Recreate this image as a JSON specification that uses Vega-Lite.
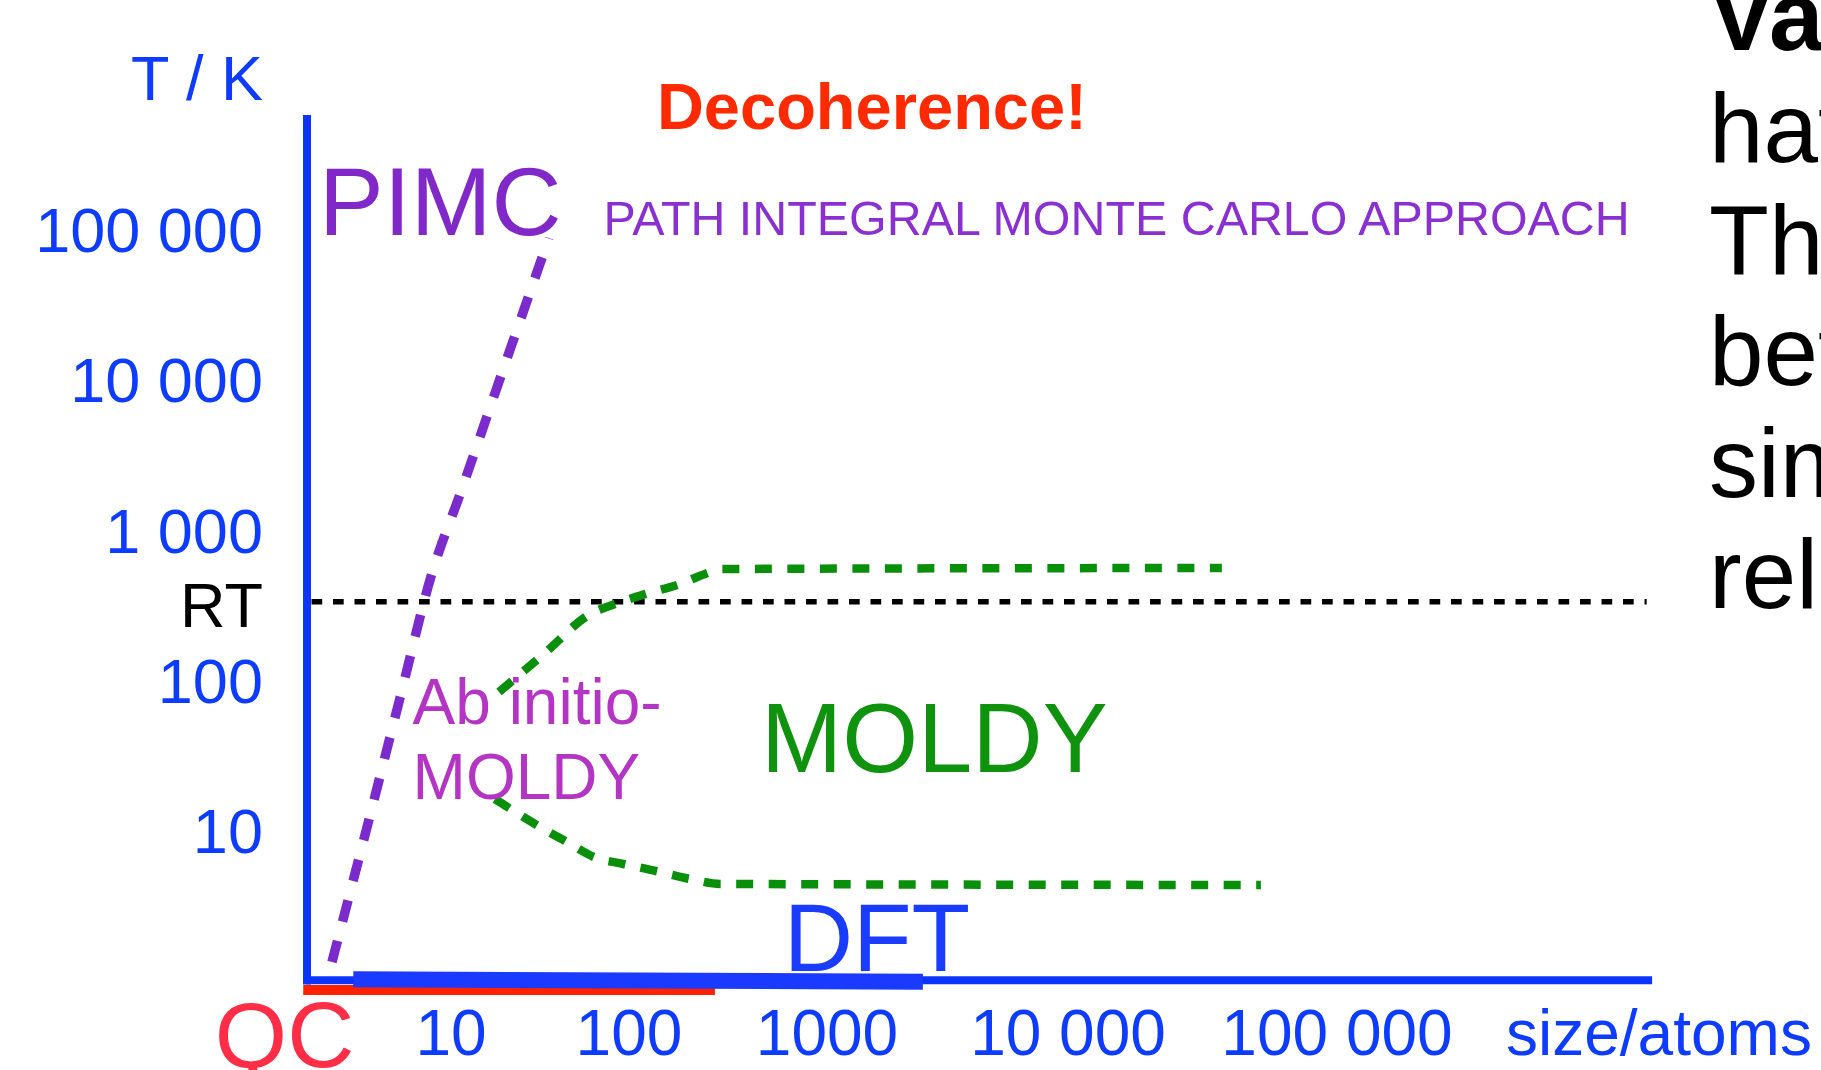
{
  "$schema": "https://vega.github.io/schema/vega-lite/v6.json",
  "width": 1821,
  "height": 1070,
  "autosize": {"type": "fit", "contains": "padding"},
  "padding": 0,
  "background": "white",
  "config": {"view": {"stroke": null}, "text": {"font": "Liberation Sans"}},
  "datasets": {
    "qc_range": [{"method": "QC", "log_size": -0.019, "log_size_end": 2.434, "log_T": -0.065, "log_T_end": -0.065}],
    "axes": [
      {"axis": "T", "log_size": 0.007, "log_size_end": 0.007, "log_T": -0.028, "log_T_end": 5.759},
      {"axis": "size", "log_size": 0, "log_size_end": 6.167, "log_T": 0, "log_T_end": 0}
    ],
    "dft_range": [{"method": "DFT", "log_size": 0.326, "log_size_end": 3.398, "log_T": 0.007, "log_T_end": -0.0096}],
    "room_temperature": [{"label": "RT", "log_size": 0.038, "log_size_end": 6.147, "log_T": 2.519, "log_T_end": 2.519}],
    "curves": [
      {"curve": "PIMC", "log_size": 0.179, "log_T": 0.121},
      {"curve": "PIMC", "log_size": 0.428, "log_T": 1.046},
      {"curve": "PIMC", "log_size": 0.648, "log_T": 1.878},
      {"curve": "PIMC", "log_size": 0.869, "log_T": 2.710},
      {"curve": "PIMC", "log_size": 1.051, "log_T": 3.236},
      {"curve": "PIMC", "log_size": 1.292, "log_T": 4.061},
      {"curve": "PIMC", "log_size": 1.550, "log_T": 4.940},
      {"curve": "MOLDY upper", "log_size": 1.270, "log_T": 1.918},
      {"curve": "MOLDY upper", "log_size": 1.528, "log_T": 2.178},
      {"curve": "MOLDY upper", "log_size": 1.781, "log_T": 2.437},
      {"curve": "MOLDY upper", "log_size": 1.921, "log_T": 2.504},
      {"curve": "MOLDY upper", "log_size": 2.081, "log_T": 2.570},
      {"curve": "MOLDY upper", "log_size": 2.258, "log_T": 2.637},
      {"curve": "MOLDY upper", "log_size": 2.384, "log_T": 2.704},
      {"curve": "MOLDY upper", "log_size": 2.470, "log_T": 2.737},
      {"curve": "MOLDY upper", "log_size": 4.572, "log_T": 2.744},
      {"curve": "MOLDY lower", "log_size": 1.247, "log_T": 1.206},
      {"curve": "MOLDY lower", "log_size": 1.500, "log_T": 1.020},
      {"curve": "MOLDY lower", "log_size": 1.652, "log_T": 0.920},
      {"curve": "MOLDY lower", "log_size": 1.803, "log_T": 0.820},
      {"curve": "MOLDY lower", "log_size": 1.966, "log_T": 0.774},
      {"curve": "MOLDY lower", "log_size": 2.136, "log_T": 0.727},
      {"curve": "MOLDY lower", "log_size": 2.308, "log_T": 0.674},
      {"curve": "MOLDY lower", "log_size": 2.460, "log_T": 0.641},
      {"curve": "MOLDY lower", "log_size": 4.717, "log_T": 0.634}
    ],
    "yticks": [
      {"label": "100 000", "log_T": 5},
      {"label": "10 000", "log_T": 4},
      {"label": "1 000", "log_T": 3},
      {"label": "100", "log_T": 2},
      {"label": "10", "log_T": 1}
    ],
    "xticks": [
      {"label": "10", "log_size": 1},
      {"label": "100", "log_size": 2},
      {"label": "1000", "log_size": 3},
      {"label": "10 000", "log_size": 4},
      {"label": "100 000", "log_size": 5}
    ],
    "side_text": [
      {"label": "hat", "log_T": 5.446},
      {"label": "Th", "log_T": 4.703},
      {"label": "bet", "log_T": 3.962},
      {"label": "sim", "log_T": 3.219},
      {"label": "rel", "log_T": 2.478}
    ]
  },
  "layer": [
    {
      "data": {"name": "qc_range"},
      "mark": {"type": "rule", "color": "#ff2200", "strokeWidth": 10, "strokeCap": "butt"},
      "encoding": {
        "x": {"field": "log_size", "type": "quantitative", "scale": {"domain": [0, 1, 2, 3, 4, 5, 6], "range": [306, 451, 629, 827, 1068, 1337, 1607], "nice": false, "zero": false}, "axis": null},
        "x2": {"field": "log_size_end"},
        "y": {"field": "log_T", "type": "quantitative", "scale": {"domain": [-0.5973, 6.5241], "nice": false, "zero": false}, "axis": null},
        "y2": {"field": "log_T_end"}
      }
    },
    {
      "data": {"name": "axes"},
      "mark": {"type": "rule", "color": "#0b35ff", "strokeWidth": 8, "strokeCap": "butt"},
      "encoding": {
        "x": {"field": "log_size", "type": "quantitative"},
        "x2": {"field": "log_size_end"},
        "y": {"field": "log_T", "type": "quantitative"},
        "y2": {"field": "log_T_end"}
      }
    },
    {
      "data": {"name": "dft_range"},
      "mark": {"type": "rule", "color": "#1a3aff", "strokeWidth": 16, "strokeCap": "butt"},
      "encoding": {
        "x": {"field": "log_size", "type": "quantitative"},
        "x2": {"field": "log_size_end"},
        "y": {"field": "log_T", "type": "quantitative"},
        "y2": {"field": "log_T_end"}
      }
    },
    {
      "data": {"name": "room_temperature"},
      "mark": {"type": "rule", "color": "#000000", "strokeWidth": 5.3, "strokeDash": [10.7, 10.8], "strokeCap": "butt"},
      "encoding": {
        "x": {"field": "log_size", "type": "quantitative"},
        "x2": {"field": "log_size_end"},
        "y": {"field": "log_T", "type": "quantitative"},
        "y2": {"field": "log_T_end"}
      }
    },
    {
      "data": {"name": "curves"},
      "transform": [{"filter": "datum.curve !== 'PIMC'"}],
      "mark": {"type": "line", "color": "#0a8f0a", "strokeWidth": 8.5, "strokeDash": [17, 15.5], "strokeCap": "butt", "interpolate": "monotone"},
      "encoding": {
        "x": {"field": "log_size", "type": "quantitative"},
        "y": {"field": "log_T", "type": "quantitative"},
        "detail": {"field": "curve"}
      }
    },
    {
      "data": {"name": "curves"},
      "transform": [{"filter": "datum.curve === 'PIMC'"}],
      "mark": {"type": "line", "color": "#7b2bcb", "strokeWidth": 9.5, "strokeDash": [22, 20], "strokeCap": "butt", "interpolate": "monotone"},
      "encoding": {
        "x": {"field": "log_size", "type": "quantitative"},
        "y": {"field": "log_T", "type": "quantitative"}
      }
    },
    {
      "data": {"name": "yticks"},
      "mark": {"type": "text", "align": "right", "baseline": "alphabetic", "dy": 23, "fontSize": 63, "color": "#0d3cff", "clip": true},
      "encoding": {
        "x": {"datum": -0.297},
        "y": {"field": "log_T", "type": "quantitative"},
        "text": {"field": "label"}
      }
    },
    {
      "data": {"values": [{"label": "RT", "log_T": 2.519}]},
      "mark": {"type": "text", "align": "right", "baseline": "alphabetic", "dy": 25, "fontSize": 63, "color": "#000000", "clip": true},
      "encoding": {
        "x": {"datum": -0.297},
        "y": {"field": "log_T", "type": "quantitative"},
        "text": {"field": "label"}
      }
    },
    {
      "data": {"values": [{"label": "T / K", "log_size": -0.297, "log_T": 5.859}]},
      "mark": {"type": "text", "align": "right", "baseline": "alphabetic", "fontSize": 63, "color": "#0d3cff", "clip": true},
      "encoding": {
        "x": {"field": "log_size", "type": "quantitative"},
        "y": {"field": "log_T", "type": "quantitative"},
        "text": {"field": "label"}
      }
    },
    {
      "data": {"name": "xticks"},
      "mark": {"type": "text", "align": "center", "baseline": "alphabetic", "fontSize": 64, "color": "#0d3cff", "clip": true},
      "encoding": {
        "x": {"field": "log_size", "type": "quantitative"},
        "y": {"datum": -0.5},
        "text": {"field": "label"}
      }
    },
    {
      "data": {"values": [{"label": "size/atoms", "log_size": 5.626}]},
      "mark": {"type": "text", "align": "left", "baseline": "alphabetic", "fontSize": 64, "color": "#0d3cff", "clip": true},
      "encoding": {
        "x": {"field": "log_size", "type": "quantitative"},
        "y": {"datum": -0.5},
        "text": {"field": "label"}
      }
    },
    {
      "data": {"values": [{"label": "QC", "log_size": -0.148, "log_T": -0.577}]},
      "mark": {"type": "text", "align": "center", "baseline": "alphabetic", "fontSize": 93, "color": "#ff2d45", "clip": true},
      "encoding": {
        "x": {"field": "log_size", "type": "quantitative"},
        "y": {"field": "log_T", "type": "quantitative"},
        "text": {"field": "label"}
      }
    },
    {
      "data": {"values": [{"label": "DFT", "log_size": 2.781, "log_T": 0.0616}]},
      "mark": {"type": "text", "align": "left", "baseline": "alphabetic", "fontSize": 96, "color": "#1a3cff", "clip": true},
      "encoding": {
        "x": {"field": "log_size", "type": "quantitative"},
        "y": {"field": "log_T", "type": "quantitative"},
        "text": {"field": "label"}
      }
    },
    {
      "data": {"values": [{"label": "PIMC", "log_size": 0.090, "log_T": 4.961}]},
      "mark": {"type": "text", "align": "left", "baseline": "alphabetic", "fontSize": 97, "color": "#8028c8", "clip": true},
      "encoding": {
        "x": {"field": "log_size", "type": "quantitative"},
        "y": {"field": "log_T", "type": "quantitative"},
        "text": {"field": "label"}
      }
    },
    {
      "data": {"values": [{"label": "PATH INTEGRAL MONTE CARLO APPROACH", "log_size": 1.857, "log_T": 4.961}]},
      "mark": {"type": "text", "align": "left", "baseline": "alphabetic", "fontSize": 48.4, "color": "#8a30d0", "clip": true},
      "encoding": {
        "x": {"field": "log_size", "type": "quantitative"},
        "y": {"field": "log_T", "type": "quantitative"},
        "text": {"field": "label"}
      }
    },
    {
      "data": {"values": [{"label": "Decoherence!", "log_size": 2.141, "log_T": 5.666}]},
      "mark": {"type": "text", "align": "left", "baseline": "alphabetic", "fontSize": 65, "fontWeight": "bold", "color": "#ff2a00", "clip": true},
      "encoding": {
        "x": {"field": "log_size", "type": "quantitative"},
        "y": {"field": "log_T", "type": "quantitative"},
        "text": {"field": "label"}
      }
    },
    {
      "data": {"values": [{"label": "Ab initio-", "log_size": 0.735, "log_T": 1.706}, {"label": "MOLDY", "log_size": 0.735, "log_T": 1.204}]},
      "mark": {"type": "text", "align": "left", "baseline": "alphabetic", "fontSize": 64, "color": "#b434c4", "clip": true},
      "encoding": {
        "x": {"field": "log_size", "type": "quantitative"},
        "y": {"field": "log_T", "type": "quantitative"},
        "text": {"field": "label"}
      }
    },
    {
      "data": {"values": [{"label": "MOLDY", "log_size": 2.667, "log_T": 1.386}]},
      "mark": {"type": "text", "align": "left", "baseline": "alphabetic", "fontSize": 97.5, "color": "#0f930f", "clip": true},
      "encoding": {
        "x": {"field": "log_size", "type": "quantitative"},
        "y": {"field": "log_T", "type": "quantitative"},
        "text": {"field": "label"}
      }
    },
    {
      "data": {"values": [{"label": "Va", "log_T": 6.188}]},
      "mark": {"type": "text", "align": "left", "baseline": "alphabetic", "fontSize": 98, "fontWeight": "bold", "color": "#000000", "clip": true},
      "encoding": {
        "x": {"datum": 6.378},
        "y": {"field": "log_T", "type": "quantitative"},
        "text": {"field": "label"}
      }
    },
    {
      "data": {"name": "side_text"},
      "mark": {"type": "text", "align": "left", "baseline": "alphabetic", "fontSize": 98, "color": "#000000", "clip": true},
      "encoding": {
        "x": {"datum": 6.378},
        "y": {"field": "log_T", "type": "quantitative"},
        "text": {"field": "label"}
      }
    }
  ]
}
